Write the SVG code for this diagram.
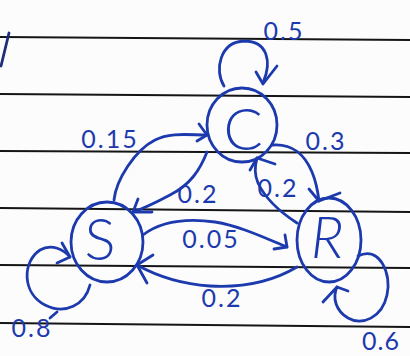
<svg xmlns="http://www.w3.org/2000/svg" width="410" height="356" viewBox="0 0 410 356">
  <defs>
    <style>
      .rule { stroke: #151515; stroke-width: 2; fill: none; }
      .ink { stroke: #1c3aae; stroke-width: 2.8; fill: none; stroke-linecap: round; stroke-linejoin: round; }
      .state { font-family: Lato, "Open Sans", "DejaVu Sans", sans-serif; font-weight: 300; font-size: 58px; fill: #1c3aae; text-anchor: middle; }
      .prob { font-family: Lato, "Open Sans", "DejaVu Sans", sans-serif; font-weight: 400; font-size: 25px; fill: #1c3aae; text-anchor: middle; letter-spacing: 2px; }
    </style>
  </defs>

  <!-- ruled paper -->
  <rect width="410" height="356" fill="#fcfcfc"/>
  <g id="paper">
    <line class="rule" x1="0" y1="37" x2="410" y2="40"/>
    <line class="rule" x1="0" y1="94" x2="410" y2="97"/>
    <line class="rule" x1="0" y1="151" x2="410" y2="153"/>
    <line class="rule" x1="0" y1="208" x2="410" y2="212"/>
    <line class="rule" x1="0" y1="265" x2="410" y2="268"/>
    <line class="rule" x1="0" y1="323" x2="410" y2="327"/>
    <path class="ink" d="M9,33 L1,66" style="stroke:#1d2f7a"/>
  </g>

  <!-- states -->
  <g id="node-C">
    <ellipse class="ink" cx="242" cy="125" rx="35" ry="37"/>
    <text class="state" x="243" y="150">C</text>
  </g>
  <g id="node-S">
    <ellipse class="ink" cx="107" cy="242" rx="36" ry="40"/>
    <text class="state" x="100" y="260">S</text>
  </g>
  <g id="node-R">
    <ellipse class="ink" cx="329" cy="240" rx="32" ry="42"/>
    <text class="state" x="327" y="258" font-style="italic">R</text>
  </g>

  <!-- transitions: curve plus open arrowhead -->
  <g id="connectors">
    <!-- C -> C -->
    <path class="ink" d="M224,86 C214,70 220,42 244,41 C268,41 272,62 263,83"/>
    <path class="ink" d="M256,72 L263,84 L277,66"/>
    <!-- S -> S -->
    <path class="ink" d="M90,285 C85,305 65,315 45,305 C22,293 22,262 40,250 C52,243 64,250 70,257"/>
    <path class="ink" d="M62,243 L70,257 L57,263"/>
    <path class="ink" d="M57,312 L50,318"/>
    <!-- R -> R -->
    <path class="ink" d="M358,256 C380,245 392,275 387,295 C382,318 362,326 348,318 C336,311 332,298 337,287"/>
    <path class="ink" d="M323,302 L337,287 L348,291"/>
    <!-- S -> C -->
    <path class="ink" d="M114,200 C116,180 135,150 155,140 C170,132 190,135 207,135"/>
    <path class="ink" d="M199,124 L207,135 L197,141"/>
    <!-- C -> S -->
    <path class="ink" d="M207,152 C200,170 190,185 170,195 C155,203 145,208 133,212"/>
    <path class="ink" d="M138,199 L133,212 L152,212"/>
    <!-- C -> R -->
    <path class="ink" d="M272,145 C292,143 305,155 312,172 C317,184 318,193 319,201"/>
    <path class="ink" d="M309,189 L319,201 L340,193"/>
    <!-- R -> C -->
    <path class="ink" d="M297,223 C280,212 265,198 258,183 C254,174 255,165 257,158"/>
    <path class="ink" d="M250,170 L257,158 L275,164"/>
    <!-- S -> R -->
    <path class="ink" d="M143,235 C160,222 185,218 215,222 C240,226 265,238 287,247"/>
    <path class="ink" d="M274,249 L287,247 L285,235"/>
    <!-- R -> S -->
    <path class="ink" d="M297,267 C275,280 245,288 210,286 C180,284 155,275 137,265"/>
    <path class="ink" d="M153,255 L137,265 L147,283"/>
  </g>

  <!-- transition probabilities -->
  <g id="labels">
    <text class="prob" x="284" y="40">0.5</text>
    <text class="prob" x="110" y="148">0.15</text>
    <text class="prob" x="326" y="150">0.3</text>
    <text class="prob" x="198" y="203">0.2</text>
    <text class="prob" x="278" y="197">0.2</text>
    <text class="prob" x="211" y="248">0.05</text>
    <text class="prob" x="222" y="307">0.2</text>
    <text class="prob" x="32" y="337">0.8</text>
    <text class="prob" x="381" y="350" style="letter-spacing:1px">0.6</text>
  </g>
</svg>
